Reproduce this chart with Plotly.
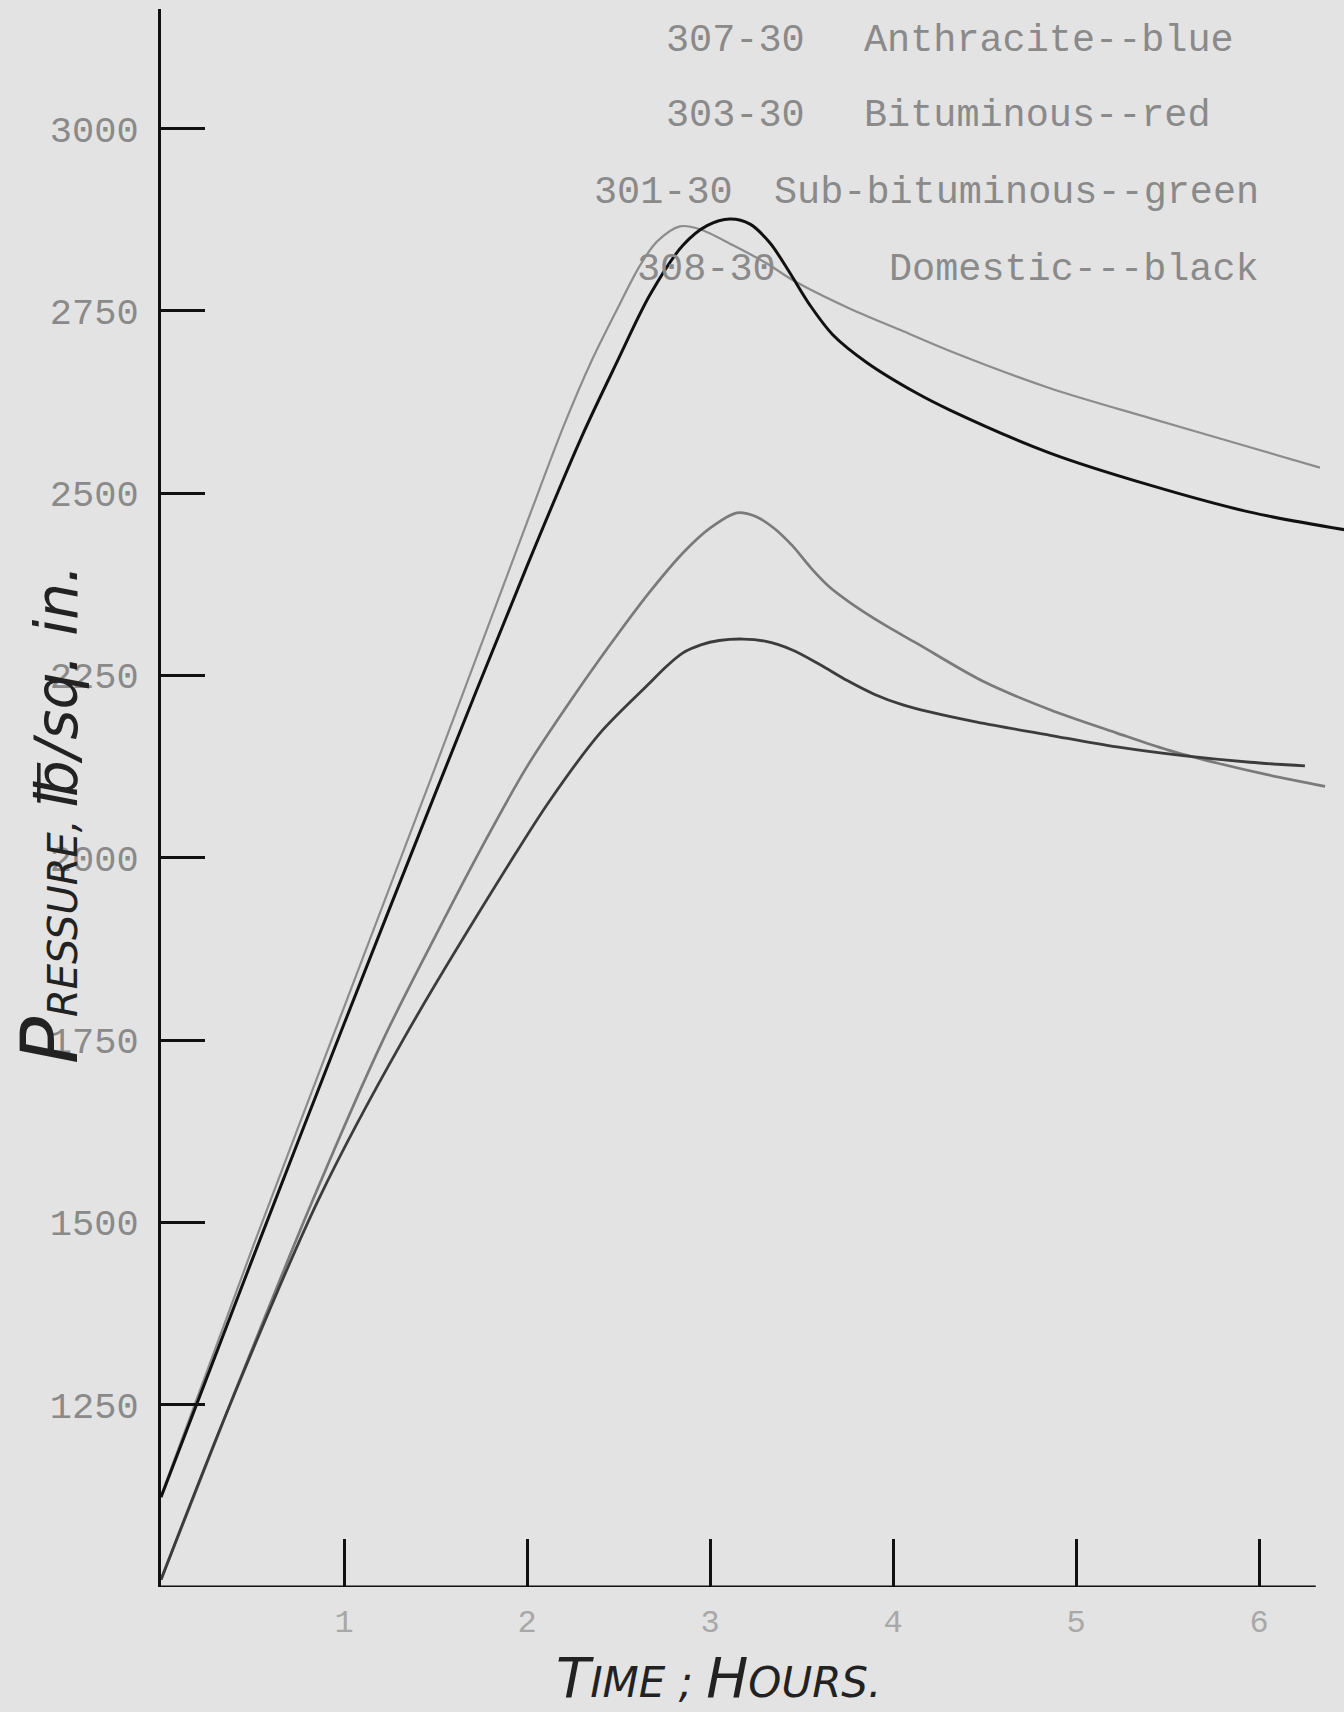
import plotly.graph_objects as go

# ---------------- data ----------------
# hours / pressure (lb per sq. in.)
time_upper_gray = [0, 0.5, 1.0, 1.5, 2.0, 2.2, 2.35, 2.492, 2.617, 2.710,
                   2.836, 2.945, 3.126, 3.311, 3.454, 3.765, 4.038, 4.311, 4.858, 5.404,
                   5.951, 6.333]
press_upper_gray = [1125, 1465, 1795, 2125, 2460, 2592, 2680, 2752, 2812, 2845,
                    2866, 2862, 2840, 2815, 2792, 2753, 2724, 2695, 2644, 2603,
                    2563, 2535]

time_black = [0, 0.5, 1.0, 1.5, 2.0, 2.3, 2.492, 2.672, 2.852,
              2.984, 3.109, 3.219, 3.328, 3.437, 3.546, 3.672, 3.858, 4.131, 4.311,
              4.858, 5.404, 5.951, 6.465]
press_black = [1123, 1450, 1772, 2089, 2400, 2578, 2680, 2772, 2840,
               2867, 2876, 2869, 2843, 2802, 2758, 2717, 2679, 2637, 2614,
               2555, 2511, 2474, 2450]

time_mid_gray = [0, 0.4, 0.83, 1.213, 1.5, 1.75, 2.0, 2.306, 2.5, 2.672, 2.852, 3.0,
                 3.148, 3.25, 3.35, 3.45, 3.55, 3.65, 3.765, 3.95, 4.131, 4.492, 4.858,
                 5.224, 5.5, 5.77, 6.044, 6.361]
press_mid_gray = [1010, 1265, 1531, 1750, 1893, 2013, 2125, 2240, 2308, 2365, 2418, 2452,
                  2473, 2468, 2452, 2428, 2398, 2372, 2350, 2320, 2294, 2242, 2203,
                  2171, 2148, 2130, 2114, 2098]

time_lower_dark = [0, 0.377, 0.86, 1.322, 1.923, 2.126, 2.399, 2.672, 2.76, 2.852, 2.95,
                   3.05, 3.18, 3.3, 3.45, 3.6, 3.75, 3.9, 4.05, 4.2, 4.459, 4.858,
                   5.224, 5.585, 5.951, 6.251]
press_lower_dark = [1010, 1250, 1531, 1750, 2000, 2079, 2171, 2240, 2262, 2281, 2292,
                    2298, 2300, 2297, 2285, 2265, 2243, 2224, 2210, 2200, 2186, 2168,
                    2152, 2140, 2131, 2126]

x_tickvals = [1, 2, 3, 4, 5, 6]
x_ticktext = ["1", "2", "3", "4", "5", "6"]
y_tickvals = [1250, 1500, 1750, 2000, 2250, 2500, 2750, 3000]
y_ticktext = ["1250", "1500", "1750", "2000", "2250", "2500", "2750", "3000"]

legend_codes = ["307-30", "303-30", "301-30", "308-30"]
legend_names = ["Anthracite--blue", "Bituminous--red", "Sub-bituminous--green", "Domestic---black"]

# ---------------- figure ----------------
W, H = 1344, 1712
ML, MR, MT, MB = 161, 0, 9, 125
PW, PH = W - ML - MR, H - MT - MB

def px_x(px):
    return (px - ML) / PW

def px_y(py):
    return (H - MB - py) / PH

BG = "#e3e3e3"

fig = go.Figure()
fig.add_trace(go.Scatter(x=time_upper_gray, y=press_upper_gray, mode="lines",
                         line=dict(color="#8c8c8c", width=2.2, shape="spline", smoothing=0.9),
                         name="307-30"))
fig.add_trace(go.Scatter(x=time_mid_gray, y=press_mid_gray, mode="lines",
                         line=dict(color="#7a7a7a", width=2.7, shape="spline", smoothing=0.9),
                         name="303-30"))
fig.add_trace(go.Scatter(x=time_lower_dark, y=press_lower_dark, mode="lines",
                         line=dict(color="#3c3c3c", width=2.8, shape="spline", smoothing=0.9),
                         name="301-30"))
fig.add_trace(go.Scatter(x=time_black, y=press_black, mode="lines",
                         line=dict(color="#111111", width=3, shape="spline", smoothing=0.9),
                         name="308-30"))

mono = "Liberation Mono"
fig.update_xaxes(range=[0, PW / 183.0], tickvals=x_tickvals, ticktext=x_ticktext,
                 ticks="inside", ticklen=48, tickwidth=2.5, tickcolor="#111",
                 showline=False, showgrid=False, zeroline=False,
                 ticklabelstandoff=12,
                 tickfont=dict(family=mono, size=32, color="#a8a8a8"))
fig.update_yaxes(range=[1000, 1000 + PH * 250 / 182.3], tickvals=y_tickvals, ticktext=y_ticktext,
                 ticks="inside", ticklen=44, tickwidth=2.5, tickcolor="#111",
                 showline=True, linewidth=3, linecolor="#111",
                 showgrid=False, zeroline=False,
                 ticklabelstandoff=12,
                 tickfont=dict(family=mono, size=37, color="#8a8a8a"))

# x axis base line (stops short of the right edge as in the drawing)
fig.add_shape(type="line", xref="x", yref="y", x0=0, x1=6.31, y0=1000, y1=1000,
              line=dict(color="#111", width=3))

# typed key
rows_y = [41, 116, 193, 270]
code_x = [664, 664, 592, 635]
name_x = [862, 862, 772, 887]
for code, name, ry, cx, nx in zip(legend_codes, legend_names, rows_y, code_x, name_x):
    fig.add_annotation(xref="paper", yref="paper", x=px_x(cx), y=px_y(ry), text=code,
                       showarrow=False, xanchor="left", yanchor="middle",
                       font=dict(family=mono, size=38.5, color="#8a8a8a"))
    fig.add_annotation(xref="paper", yref="paper", x=px_x(nx), y=px_y(ry), text=name,
                       showarrow=False, xanchor="left", yanchor="middle",
                       font=dict(family=mono, size=38.5, color="#8a8a8a"))

# hand-lettered axis titles
fig.add_annotation(xref="paper", yref="paper", x=px_x(50), y=px_y(815),
                   text=('<span style="font-size:78px">P</span>RESSURE, '
                         '<span style="font-size:58px">℔/sq. in.</span>'),
                   textangle=-90, showarrow=False, xanchor="center", yanchor="middle",
                   font=dict(family="DejaVu Sans", size=40, color="#222", style="italic"))
fig.add_annotation(xref="paper", yref="paper", x=px_x(718), y=px_y(1712),
                   text=('<span style="font-size:56px">T</span>IME ; '
                         '<span style="font-size:56px">H</span>OURS.'),
                   showarrow=False, xanchor="center", yanchor="bottom",
                   font=dict(family="DejaVu Sans", size=42, color="#222", style="italic"))

fig.update_layout(width=W, height=H, autosize=False,
                  margin=dict(l=ML, r=MR, t=MT, b=MB, pad=0),
                  paper_bgcolor=BG, plot_bgcolor=BG, showlegend=False)

fig.write_html("out.html")
